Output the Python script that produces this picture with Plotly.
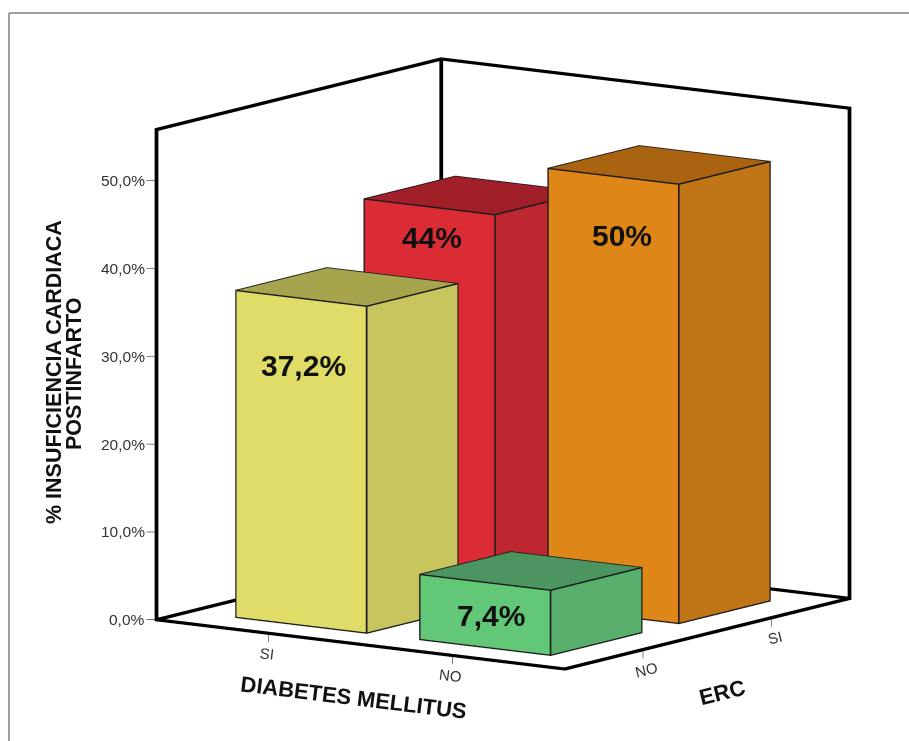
import plotly.graph_objects as go

# Heart failure rate by diabetes status and chronic kidney disease
diabetes_labels = ["SI", "NO"]
erc_labels = ["NO", "SI"]
percent_ticks = [0, 10, 20, 30, 40, 50]
percent_tick_text = ["0,0%", "10,0%", "20,0%", "30,0%", "40,0%", "50,0%"]

bar_diabetes = [0, 1, 0, 1]
bar_erc = [0, 0, 1, 1]
bar_values = [37.2, 7.4, 44.0, 50.0]
bar_text = ["37,2%", "7,4%", "44%", "50%"]

front_colors = ["#E0DC68", "#63C778", "#DB2C36", "#DE8618"]
side_colors = ["#C8C45E", "#58AF6C", "#BE2731", "#C07516"]
top_colors = ["#A6A44C", "#4D9560", "#A01F28", "#AA6311"]

# Where each value label sits on its bar's front face: height and sideways nudge
label_heights = [29.6, 3.6, 40.5, 43.3]
label_nudges = [2, 6, 2, 8]

# Box extent; the axis ranges leave room around it for the tick marks
X0, X1 = -0.61, 1.61
Y0, Y1 = -0.61, 1.61
Z_MAX = 55.8
RANGE_ROOM = 1.135
X_PAD = (X1 - X0) * (RANGE_ROOM - 1) / 2
Z_PAD = Z_MAX * (RANGE_ROOM - 1) / 2
HALF = 0.355
W, H = 909, 741
SCENE_ZOOM = 1.552

# Approximate screen pixels per data unit, used for line thickness
PX_X = 223.0
PX_Z = 8.93


def beams(segments, px):
    """Triangles for thick axis-aligned lines, drawn as thin boxes."""
    hx, hz = px / PX_X, px / PX_Z
    vx, vy, vz, ii, jj, kk = [], [], [], [], [], []
    for (a, b) in segments:
        lo = [min(a[0], b[0]) - hx, min(a[1], b[1]) - hx, min(a[2], b[2]) - hz]
        hi = [max(a[0], b[0]) + hx, max(a[1], b[1]) + hx, max(a[2], b[2]) + hz]
        n = len(vx)
        vx += [lo[0], hi[0], hi[0], lo[0]] * 2
        vy += [lo[1], lo[1], hi[1], hi[1]] * 2
        vz += [lo[2]] * 4 + [hi[2]] * 4
        for t in [(0, 1, 5), (0, 5, 4), (1, 2, 6), (1, 6, 5), (4, 5, 6), (4, 6, 7),
                  (0, 3, 7), (0, 7, 4), (3, 2, 6), (3, 6, 7), (0, 1, 2), (0, 2, 3)]:
            ii.append(n + t[0])
            jj.append(n + t[1])
            kk.append(n + t[2])
    return vx, vy, vz, ii, jj, kk


def flat_mesh(vx, vy, vz, ii, jj, kk, **kw):
    return go.Mesh3d(x=vx, y=vy, z=vz, i=ii, j=jj, k=kk, flatshading=True,
                     hoverinfo="skip", showscale=False,
                     lighting=dict(ambient=1, diffuse=0, specular=0, fresnel=0, roughness=1),
                     **kw)


fig = go.Figure()

# Box walls behind the bars
wall_segments = [
    ((X0, Y0, 0), (X1, Y0, 0)), ((X1, Y0, 0), (X1, Y1, 0)),
    ((X0, Y0, 0), (X0, Y1, 0)), ((X0, Y1, 0), (X1, Y1, 0)),
    ((X0, Y0, 0), (X0, Y0, Z_MAX)), ((X0, Y1, 0), (X0, Y1, Z_MAX)),
    ((X1, Y1, 0), (X1, Y1, Z_MAX)),
    ((X0, Y0, Z_MAX), (X0, Y1, Z_MAX)), ((X0, Y1, Z_MAX), (X1, Y1, Z_MAX)),
]
fig.add_trace(flat_mesh(*beams(wall_segments, 1.35), color="black"))

# One cuboid per bar, each visible face with its own flat shade
for cx, cy, h, fc, sc, tc in zip(bar_diabetes, bar_erc, bar_values,
                                 front_colors, side_colors, top_colors):
    a, b = cx - HALF, cx + HALF
    c, d = cy - HALF, cy + HALF
    xs = [a, b, b, a] * 2
    ys = [c, c, d, d] * 2
    zs = [0] * 4 + [h] * 4
    i = [0, 0, 1, 1, 4, 4, 0, 0, 3, 3, 0, 0]
    j = [1, 5, 2, 6, 5, 6, 3, 7, 2, 6, 1, 2]
    k = [5, 4, 6, 5, 6, 7, 7, 4, 6, 7, 2, 3]
    colors = [fc, fc, sc, sc, tc, tc, sc, sc, sc, sc, fc, fc]
    fig.add_trace(flat_mesh(xs, ys, zs, i, j, k, facecolor=colors))
    edges = [
        ((a, c, 0), (b, c, 0)), ((b, c, 0), (b, d, 0)),
        ((a, c, h), (b, c, h)), ((b, c, h), (b, d, h)),
        ((b, d, h), (a, d, h)), ((a, d, h), (a, c, h)),
        ((a, c, 0), (a, c, h)), ((b, c, 0), (b, c, h)), ((b, d, 0), (b, d, h)),
    ]
    fig.add_trace(flat_mesh(*beams(edges, 0.6), color="#1c1c1c"))

# Tick marks just outside the box
tx, ty, tz = [], [], []
for p in percent_ticks:
    tx += [X0, X0 - 0.037, None]
    ty += [Y0, Y0 - 0.026, None]
    tz += [p, p, None]
for v in range(len(diabetes_labels)):
    tx += [v, v, None]
    ty += [Y0, Y0, None]
    tz += [0, -1.0, None]
for v in range(len(erc_labels)):
    tx += [X1, X1, None]
    ty += [v, v, None]
    tz += [0, -1.0, None]
fig.add_trace(go.Scatter3d(x=tx, y=ty, z=tz, mode="lines",
                           line=dict(color="#000000", width=1),
                           hoverinfo="skip", showlegend=False))

hidden_axis = dict(showgrid=False, zeroline=False, showbackground=False, showspikes=False,
                   showline=False, ticks="", showticklabels=False, title=dict(text=""))


def tick_note(x, y, z, text, xshift, yshift, angle=0, anchor="center", size=15):
    return dict(x=x, y=y, z=z, text=text, showarrow=False, xshift=xshift, yshift=yshift,
                textangle=angle, xanchor=anchor, yanchor="middle",
                font=dict(family="Liberation Sans", size=size, color="#333333"))


scene_notes = [
    dict(x=cx, y=cy - HALF, z=zl, text=f"<b>{t}</b>", showarrow=False, xshift=n,
         font=dict(family="Liberation Sans", size=30, color="#111111"),
         xanchor="center", yanchor="middle")
    for cx, cy, zl, t, n in zip(bar_diabetes, bar_erc, label_heights, bar_text, label_nudges)
]
scene_notes += [tick_note(X0, Y0, p, t, -10, 0, anchor="right", size=15.5)
                for p, t in zip(percent_ticks, percent_tick_text)]
scene_notes += [tick_note(v, Y0, 0, t, -2, -20, angle=7)
                for v, t in enumerate(diabetes_labels)]
scene_notes += [tick_note(X1, v, 0, t, 4, -20, angle=-14)
                for v, t in enumerate(erc_labels)]


def title(px, py, text, angle, size=21.5):
    return dict(x=px / W, y=1 - py / H, xref="paper", yref="paper", text=f"<b>{text}</b>",
                textangle=angle, showarrow=False, xanchor="center", yanchor="middle",
                font=dict(family="Liberation Sans", size=size, color="#111111"))


fig.update_layout(
    width=W, height=H,
    margin=dict(l=0, r=0, t=0, b=0),
    paper_bgcolor="white",
    showlegend=False,
    scene=dict(
        domain=dict(x=[97 / W, 1], y=[13 / H, 1]),
        aspectmode="manual",
        aspectratio=dict(x=SCENE_ZOOM, y=SCENE_ZOOM, z=SCENE_ZOOM),
        bgcolor="rgba(0,0,0,0)",
        camera=dict(
            projection=dict(type="orthographic"),
            up=dict(x=0, y=0, z=1),
            center=dict(x=0, y=0, z=0),
            eye=dict(x=0.5636 * 2, y=-0.808 * 2, z=0.173 * 2),
        ),
        xaxis=dict(hidden_axis, range=[X0 - X_PAD, X1 + X_PAD], tickvals=[0, 1],
                   ticktext=diabetes_labels),
        yaxis=dict(hidden_axis, range=[Y0 - X_PAD, Y1 + X_PAD], tickvals=[0, 1],
                   ticktext=erc_labels),
        zaxis=dict(hidden_axis, range=[-Z_PAD, Z_MAX + Z_PAD], tickvals=percent_ticks,
                   ticktext=percent_tick_text),
        annotations=scene_notes,
    ),
    annotations=[
        title(353, 697, "DIABETES MELLITUS", 7, 22),
        title(722, 692, "ERC", -14, 22),
        title(54, 372, "% INSUFICIENCIA CARDIACA", -90),
        title(74, 374, "POSTINFARTO", -90),
    ],
    shapes=[
        dict(type="line", xref="paper", yref="paper", x0=9 / W, x1=9 / W,
             y0=0, y1=1 - 13 / H, line=dict(color="#808080", width=1.5)),
        dict(type="line", xref="paper", yref="paper", x0=9 / W, x1=1,
             y0=1 - 13 / H, y1=1 - 13 / H, line=dict(color="#808080", width=1.5)),
    ],
)

fig.write_html("out.html", config=dict(displayModeBar=False))
